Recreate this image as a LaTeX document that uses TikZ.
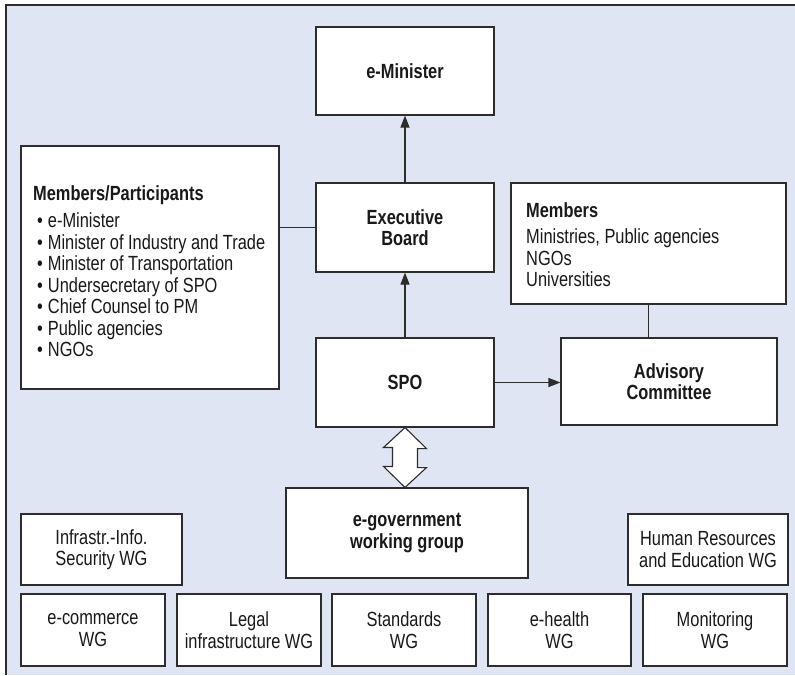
\documentclass[tikz,border=0pt]{standalone}
\usepackage{fontspec}
\setmainfont{Liberation Sans}[FakeStretch=0.80]
\usetikzlibrary{arrows.meta}
\definecolor{bgblue}{RGB}{223,229,243}
\definecolor{lineg}{RGB}{45,45,45}
\definecolor{txtg}{RGB}{25,25,25}
\tikzset{
  box/.style={draw=lineg, line width=1.1pt, fill=white, inner sep=0pt, align=center,
    text=txtg, font=\fontsize{20.5}{21.5}\selectfont},
  bbox/.style={box, font=\fontsize{20.5}{21.5}\selectfont\bfseries},
  txt/.style={inner sep=0pt, align=left, text=txtg, font=\fontsize{20.5}{21.5}\selectfont},
  conn/.style={draw=lineg, line width=1.1pt},
  arr/.style={conn, -{Triangle[length=12pt,width=9pt]}},
  dbl/.style={draw=lineg, line width=1.1pt, fill=white, line join=miter}
}
\begin{document}
\begin{tikzpicture}[x=1pt,y=-1pt]
\useasboundingbox (0,0) rectangle (795,675);
\fill[bgblue] (5,5) rectangle (795,675);
\draw[lineg, line width=2pt] (6,675) -- (6,5) -- (795,5);

% main column
\node[bbox, minimum width=178, minimum height=88] (emin) at (405,71) {e-Minister};
\node[bbox, minimum width=178, minimum height=89] (exec) at (405,227.5) {Executive\\Board};
\node[bbox, minimum width=178, minimum height=89] (spo) at (405,382.5) {SPO};
\node[bbox, minimum width=242, minimum height=90] (egov) at (407,533) {e-government\\working group};

% members/participants
\node[box, minimum width=258, minimum height=243] (mp) at (150,267.5) {};
\node[txt, anchor=north west] (mptext) at (33,185.5) {\textbf{Members/Participants}\\[5.5pt]
\hspace*{4pt}\textbullet\hspace{5pt}e-Minister\\
\hspace*{4pt}\textbullet\hspace{5pt}Minister of Industry and Trade\\
\hspace*{4pt}\textbullet\hspace{5pt}Minister of Transportation\\
\hspace*{4pt}\textbullet\hspace{5pt}Undersecretary of SPO\\
\hspace*{4pt}\textbullet\hspace{5pt}Chief Counsel to PM\\
\hspace*{4pt}\textbullet\hspace{5pt}Public agencies\\
\hspace*{4pt}\textbullet\hspace{5pt}NGOs};

% members (advisory)
\node[box, minimum width=275, minimum height=121] (memr) at (648.5,243.5) {};
\node[txt, anchor=north west] (memrtext) at (526,202.5) {\textbf{Members}\\[4.5pt]
Ministries, Public agencies\\NGOs\\Universities};

\node[bbox, minimum width=216, minimum height=87] (adv) at (669,381.5) {Advisory\\Committee};

% working groups
\node[box, minimum width=161, minimum height=71] (infra) at (101.5,549.5) {Infrastr.-Info.\\Security WG};
\node[box, minimum width=160, minimum height=71] (hr) at (708,549.5) {Human Resources\\and Education WG};
\node[box, minimum width=144, minimum height=72] (ecom) at (93,630) {e-commerce\\WG};
\node[box, minimum width=144, minimum height=72] (legal) at (249,630) {Legal\\infrastructure WG};
\node[box, minimum width=144, minimum height=72] (std) at (404,630) {Standards\\WG};
\node[box, minimum width=143, minimum height=72] (health) at (559.5,630) {e-health\\WG};
\node[box, minimum width=144, minimum height=72] (monit) at (715,630) {Monitoring\\WG};

% connectors
\draw[arr] (exec.north) -- (emin.south);
\draw[arr] (spo.north) -- (exec.south);
\draw[conn] (exec.west) -- (exec.west -| mp.east);
\draw[conn] (memr.south) -- (memr.south |- adv.north);
\draw[arr] (spo.east) -- (spo.east -| adv.west);

% double arrow SPO <-> e-government working group
\coordinate (dtop) at (spo.south);
\coordinate (dbot) at (spo.south |- egov.north);
\draw[dbl] (dtop) -- ++(21.5,21) -- ++(-9,0) -- ++(0,19) -- ++(9,0) -- (dbot)
  -- ++(-21.5,-21) -- ++(9,0) -- ++(0,-19) -- ++(-9,0) -- cycle;
\end{tikzpicture}
\end{document}
